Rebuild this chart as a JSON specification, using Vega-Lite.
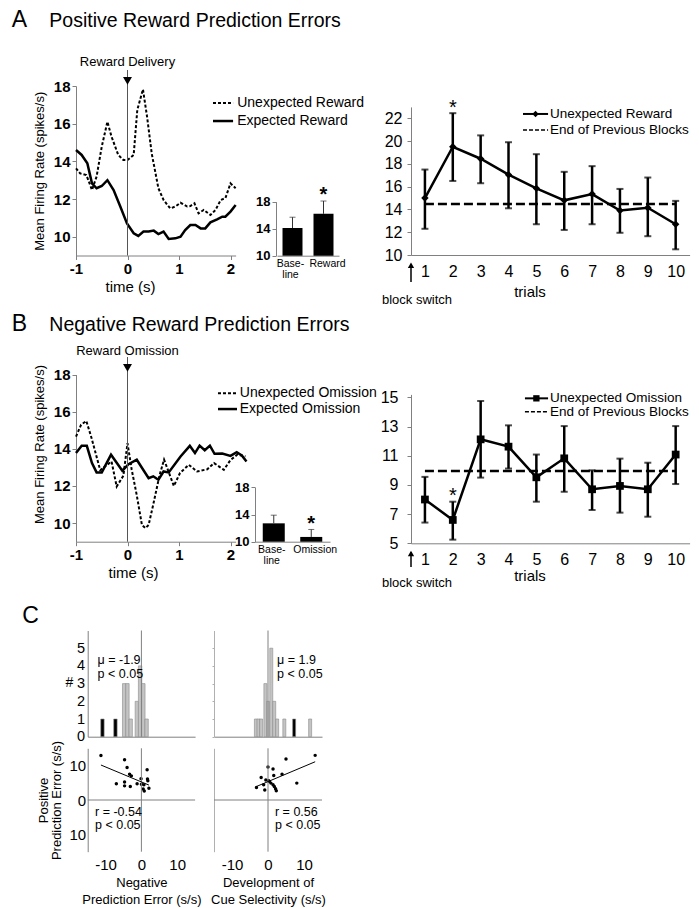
{
"$schema": "https://vega.github.io/schema/vega-lite/v6.json",
"width": 699, "height": 908, "autosize": "none", "padding": 0, "background": "white",
"config": {
  "view": {"stroke": null},
  "font": "Liberation Sans",
  "axis": {"grid": false, "domainColor": "#808080", "tickColor": "#808080", "labelColor": "#000", "titleColor": "#000", "titleFontWeight": "normal", "labelFont": "Liberation Sans", "titleFont": "Liberation Sans", "labelOverlap": false, "labelFlush": false, "labelExpr": "'' + datum.value"},
  "text": {"font": "Liberation Sans", "color": "#000"}
},
"datasets": {
  "uR": [{"t":-1.0,"rate":13.63},{"t":-0.92,"rate":13.36},{"t":-0.8,"rate":13.27},{"t":-0.76,"rate":13.0},{"t":-0.69,"rate":12.48},{"t":-0.6,"rate":13.19},{"t":-0.5,"rate":14.78},{"t":-0.39,"rate":16.1},{"t":-0.31,"rate":15.31},{"t":-0.18,"rate":14.34},{"t":-0.08,"rate":14.07},{"t":0.0,"rate":14.07},{"t":0.12,"rate":14.34},{"t":0.19,"rate":16.73},{"t":0.3,"rate":17.82},{"t":0.38,"rate":16.37},{"t":0.47,"rate":14.42},{"t":0.6,"rate":12.57},{"t":0.7,"rate":11.95},{"t":0.83,"rate":11.5},{"t":0.93,"rate":11.6},{"t":1.03,"rate":11.8},{"t":1.16,"rate":11.6},{"t":1.22,"rate":11.63},{"t":1.3,"rate":11.77},{"t":1.38,"rate":11.24},{"t":1.48,"rate":11.42},{"t":1.61,"rate":11.15},{"t":1.71,"rate":11.42},{"t":1.81,"rate":11.95},{"t":1.9,"rate":12.04},{"t":2.0,"rate":12.83},{"t":2.1,"rate":12.57}],
  "eR": [{"t":-1.0,"rate":14.6},{"t":-0.89,"rate":14.34},{"t":-0.78,"rate":13.9},{"t":-0.69,"rate":12.83},{"t":-0.6,"rate":12.57},{"t":-0.5,"rate":12.69},{"t":-0.39,"rate":13.0},{"t":-0.27,"rate":12.48},{"t":-0.14,"rate":11.6},{"t":-0.01,"rate":10.7},{"t":0.12,"rate":10.18},{"t":0.21,"rate":10.04},{"t":0.31,"rate":10.27},{"t":0.41,"rate":10.27},{"t":0.51,"rate":10.32},{"t":0.6,"rate":10.14},{"t":0.7,"rate":10.27},{"t":0.8,"rate":9.88},{"t":0.93,"rate":9.91},{"t":1.03,"rate":10.0},{"t":1.12,"rate":10.35},{"t":1.22,"rate":10.62},{"t":1.32,"rate":10.62},{"t":1.42,"rate":10.44},{"t":1.51,"rate":10.44},{"t":1.61,"rate":10.76},{"t":1.74,"rate":10.92},{"t":1.84,"rate":11.06},{"t":1.9,"rate":11.06},{"t":2.0,"rate":11.33},{"t":2.1,"rate":11.68}],
  "uO": [{"t":-1.0,"rate":14.66},{"t":-0.9,"rate":15.3},{"t":-0.8,"rate":15.5},{"t":-0.7,"rate":14.6},{"t":-0.53,"rate":12.85},{"t":-0.31,"rate":13.32},{"t":-0.21,"rate":11.97},{"t":-0.08,"rate":12.55},{"t":0.0,"rate":14.3},{"t":0.08,"rate":12.9},{"t":0.18,"rate":11.5},{"t":0.28,"rate":9.9},{"t":0.35,"rate":9.73},{"t":0.41,"rate":9.9},{"t":0.5,"rate":11.0},{"t":0.62,"rate":12.55},{"t":0.71,"rate":13.42},{"t":0.9,"rate":12.0},{"t":1.02,"rate":12.7},{"t":1.19,"rate":13.14},{"t":1.35,"rate":12.78},{"t":1.55,"rate":12.9},{"t":1.68,"rate":13.23},{"t":1.87,"rate":12.87},{"t":2.0,"rate":13.4},{"t":2.13,"rate":13.68},{"t":2.29,"rate":13.6}],
  "eO": [{"t":-1.0,"rate":13.77},{"t":-0.89,"rate":14.16},{"t":-0.79,"rate":14.16},{"t":-0.69,"rate":13.23},{"t":-0.6,"rate":12.73},{"t":-0.5,"rate":12.73},{"t":-0.32,"rate":13.68},{"t":-0.21,"rate":13.25},{"t":-0.1,"rate":12.82},{"t":0.02,"rate":13.17},{"t":0.18,"rate":13.41},{"t":0.41,"rate":12.42},{"t":0.5,"rate":12.52},{"t":0.6,"rate":12.33},{"t":0.7,"rate":12.78},{"t":0.8,"rate":12.73},{"t":1.03,"rate":13.59},{"t":1.21,"rate":14.16},{"t":1.31,"rate":13.77},{"t":1.4,"rate":14.17},{"t":1.5,"rate":13.92},{"t":1.6,"rate":14.17},{"t":1.69,"rate":13.73},{"t":1.84,"rate":13.75},{"t":2.0,"rate":13.62},{"t":2.12,"rate":13.82},{"t":2.22,"rate":13.64},{"t":2.31,"rate":13.32}],
  "barA": [{"cond":"Baseline","rate":14.1,"upper":15.7},{"cond":"Reward","rate":16.2,"upper":18.1}],
  "barB": [{"cond":"Baseline","rate":12.7,"upper":13.9},{"cond":"Omission","rate":10.7,"upper":11.8}],
  "trA": [{"trial":1,"mean":15.0,"lo":12.3,"hi":17.5},{"trial":2,"mean":19.5,"lo":16.5,"hi":22.45},{"trial":3,"mean":18.45,"lo":16.3,"hi":20.5},{"trial":4,"mean":17.05,"lo":14.1,"hi":19.9},{"trial":5,"mean":15.85,"lo":12.7,"hi":18.85},{"trial":6,"mean":14.8,"lo":12.2,"hi":17.3},{"trial":7,"mean":15.35,"lo":12.7,"hi":17.8},{"trial":8,"mean":13.9,"lo":11.95,"hi":15.8},{"trial":9,"mean":14.15,"lo":11.65,"hi":16.8},{"trial":10,"mean":12.7,"lo":10.5,"hi":14.75}],
  "trB": [{"trial":1,"mean":8.0,"lo":6.42,"hi":9.55},{"trial":2,"mean":6.6,"lo":5.25,"hi":7.85},{"trial":3,"mean":12.12,"lo":9.5,"hi":14.75},{"trial":4,"mean":11.62,"lo":10.12,"hi":13.08},{"trial":5,"mean":9.52,"lo":7.85,"hi":11.08},{"trial":6,"mean":10.82,"lo":8.53,"hi":13.03},{"trial":7,"mean":8.7,"lo":7.28,"hi":10.0},{"trial":8,"mean":8.93,"lo":7.1,"hi":10.8},{"trial":9,"mean":8.7,"lo":6.82,"hi":10.52},{"trial":10,"mean":11.08,"lo":9.06,"hi":13.03}],
  "histL": [{"bin":-12,"count":1,"kind":"black"},{"bin":-8,"count":1,"kind":"black"},{"bin":-5.3,"count":3,"kind":"grey"},{"bin":-4.3,"count":3,"kind":"grey"},{"bin":-3.3,"count":1,"kind":"grey"},{"bin":-1.4,"count":2,"kind":"grey"},{"bin":-0.4,"count":4,"kind":"grey"},{"bin":0.6,"count":3,"kind":"grey"},{"bin":1.6,"count":1,"kind":"grey"}],
  "histR": [{"bin":-3.7,"count":1,"kind":"grey"},{"bin":-2.9,"count":1,"kind":"grey"},{"bin":-2.1,"count":1,"kind":"grey"},{"bin":-0.8,"count":3,"kind":"grey"},{"bin":0.0,"count":2,"kind":"grey"},{"bin":1.0,"count":5,"kind":"grey"},{"bin":1.9,"count":2,"kind":"grey"},{"bin":2.8,"count":1,"kind":"grey"},{"bin":5.0,"count":1,"kind":"grey"},{"bin":8.0,"count":1,"kind":"black"},{"bin":12.9,"count":1,"kind":"grey"}],
  "scL": [{"nx":-11.3,"py":12.9},{"nx":-4.7,"py":11.7},{"nx":-4.0,"py":9.4},{"nx":-3.3,"py":7.5},{"nx":-2.8,"py":7.0},{"nx":-7.0,"py":4.7},{"nx":-4.7,"py":5.2},{"nx":-4.7,"py":4.1},{"nx":-3.1,"py":3.9},{"nx":-1.2,"py":4.7},{"nx":-0.1,"py":6.2},{"nx":0.0,"py":4.6},{"nx":0.5,"py":3.2},{"nx":0.8,"py":2.6},{"nx":1.6,"py":8.8},{"nx":1.7,"py":6.1},{"nx":1.8,"py":5.6},{"nx":2.1,"py":3.4},{"nx":0.7,"py":4.4}],
  "scR": [{"cx":13.1,"py":12.95},{"cx":5.0,"py":11.9},{"cx":0.0,"py":9.6},{"cx":1.4,"py":9.0},{"cx":3.9,"py":7.5},{"cx":1.6,"py":7.1},{"cx":-1.9,"py":6.5},{"cx":-0.6,"py":5.8},{"cx":0.4,"py":5.4},{"cx":0.8,"py":4.9},{"cx":1.4,"py":4.4},{"cx":-1.2,"py":4.4},{"cx":-3.2,"py":3.6},{"cx":-0.9,"py":2.9},{"cx":1.75,"py":3.9},{"cx":2.1,"py":3.3},{"cx":2.3,"py":2.7},{"cx":8.0,"py":4.9},{"cx":0.2,"py":5.6}]
},
"resolve": {"scale": {"x": "independent", "y": "independent"}, "axis": {"x": "independent", "y": "independent"}},
"layer": [
 {"layer": [
  {"data": {"name": "eR"}, "mark": {"type": "line", "color": "#000", "strokeWidth": 2.5},
   "encoding": {
    "x": {"field": "t", "type": "quantitative", "scale": {"domain": [-1, 2.1], "range": [76, 235.65], "nice": false, "zero": false},
          "axis": {"orient": "bottom", "offset": -652.5, "values": [-1, 0, 1, 2], "labelFontSize": 15, "labelFontWeight": "bold", "tickSize": 4, "labelPadding": 2, "title": "time (s)", "titleFontSize": 15, "titlePadding": 3, "titleX": 130}},
    "y": {"field": "rate", "type": "quantitative", "scale": {"domain": [9, 18], "range": [255.5, 86], "nice": false, "zero": false},
          "axis": {"orient": "left", "offset": -76, "values": [10, 12, 14, 16, 18], "labelFontSize": 15, "labelFontWeight": "bold", "tickSize": 4, "labelPadding": 2, "title": "Mean Firing Rate (spikes/s)", "titleFontSize": 13, "titlePadding": 7}}}},
  {"data": {"name": "uR"}, "mark": {"type": "line", "color": "#000", "strokeWidth": 2, "strokeDash": [3, 2]},
   "encoding": {"x": {"field": "t", "type": "quantitative"}, "y": {"field": "rate", "type": "quantitative"}}},
  {"data": {"values": [{}]}, "mark": {"type": "rule", "color": "#555", "strokeWidth": 1},
   "encoding": {"x": {"datum": 0}, "y": {"datum": 9}, "y2": {"datum": 18.85}}},
  {"data": {"values": [{}]}, "mark": {"type": "point", "shape": "triangle-down", "filled": true, "color": "#000", "opacity": 1, "size": 80},
   "encoding": {"x": {"datum": 0}, "y": {"datum": 18.27}}},
  {"data": {"values": [{}]}, "mark": {"type": "text", "fontSize": 13, "align": "center", "baseline": "middle"},
   "encoding": {"x": {"datum": 0}, "y": {"datum": 19.27}, "text": {"value": "Reward Delivery"}}},
  {"data": {"values": [{}]}, "mark": {"type": "rule", "color": "#000", "strokeWidth": 2, "strokeDash": [3, 2]},
   "encoding": {"x": {"datum": 1.66}, "x2": {"datum": 2.05}, "y": {"datum": 17.1}}},
  {"data": {"values": [{}]}, "mark": {"type": "rule", "color": "#000", "strokeWidth": 2.5},
   "encoding": {"x": {"datum": 1.66}, "x2": {"datum": 2.05}, "y": {"datum": 16.14}}},
  {"data": {"values": [{}]}, "mark": {"type": "text", "fontSize": 14, "align": "left", "baseline": "middle"},
   "encoding": {"x": {"datum": 2.13}, "y": {"datum": 17.1}, "text": {"value": "Unexpected Reward"}}},
  {"data": {"values": [{}]}, "mark": {"type": "text", "fontSize": 14, "align": "left", "baseline": "middle"},
   "encoding": {"x": {"datum": 2.13}, "y": {"datum": 16.14}, "text": {"value": "Expected Reward"}}},
  {"data": {"values": [{}]}, "mark": {"type": "text", "fontSize": 23, "align": "left", "baseline": "alphabetic"},
   "encoding": {"x": {"datum": -2.249}, "y": {"datum": 21.13}, "text": {"value": "A"}}},
  {"data": {"values": [{}]}, "mark": {"type": "text", "fontSize": 19.5, "align": "left", "baseline": "alphabetic"},
   "encoding": {"x": {"datum": -1.518}, "y": {"datum": 21.13}, "text": {"value": "Positive Reward Prediction Errors"}}}
 ]},
 {"layer": [
  {"data": {"name": "barA"}, "mark": {"type": "bar", "color": "#000"},
   "encoding": {
    "x": {"field": "cond", "type": "nominal", "sort": null, "scale": {"domain": ["Baseline", "Reward"], "range": [277, 339], "paddingInner": 0.355, "paddingOuter": 0.1775},
          "axis": {"orient": "bottom", "offset": -652.3, "labelAngle": 0, "ticks": false, "labelFontSize": 10.5, "labelPadding": 3, "labelLineHeight": 11, "labelOffset": {"condition": {"test": "datum.value == 'Baseline'", "value": -2}, "value": 4}, "labelExpr": "datum.value == 'Baseline' ? ['Base-', 'line'] : datum.value", "title": null}},
    "y": {"field": "rate", "type": "quantitative", "scale": {"domain": [10, 18], "range": [255.7, 201.7], "nice": false, "zero": false},
          "axis": {"orient": "left", "offset": -276, "values": [10, 14, 18], "labelFontSize": 13, "labelFontWeight": "bold", "tickSize": 4, "labelPadding": 2, "title": null}},
    "y2": {"datum": 10}}},
  {"data": {"name": "barA"}, "mark": {"type": "rule", "color": "#333", "strokeWidth": 1},
   "encoding": {"x": {"field": "cond", "type": "nominal"}, "y": {"field": "rate", "type": "quantitative"}, "y2": {"field": "upper"}}},
  {"data": {"name": "barA"}, "mark": {"type": "tick", "orient": "horizontal", "size": 6, "thickness": 1, "color": "#333"},
   "encoding": {"x": {"field": "cond", "type": "nominal"}, "y": {"field": "upper", "type": "quantitative"}}},
  {"data": {"values": [{"cond": "Reward"}]}, "mark": {"type": "text", "fontSize": 20, "fontWeight": "bold", "align": "center", "baseline": "middle"},
   "encoding": {"x": {"field": "cond", "type": "nominal"}, "y": {"datum": 19.05}, "text": {"value": "*"}}}
 ]},
 {"layer": [
  {"data": {"name": "trA"}, "mark": {"type": "rule", "color": "#000", "strokeWidth": 2.5},
   "encoding": {
    "x": {"field": "trial", "type": "quantitative", "scale": {"domain": [0.5, 10.5], "range": [411, 689.6], "nice": false, "zero": false},
          "axis": {"orient": "bottom", "offset": -653, "values": [1,2,3,4,5,6,7,8,9,10], "ticks": false, "labelFontSize": 16, "labelPadding": 8, "title": null}},
    "y": {"field": "lo", "type": "quantitative", "scale": {"domain": [10, 23], "range": [255, 106.9], "nice": false, "zero": false},
          "axis": {"orient": "left", "offset": -411, "values": [10,12,14,16,18,20,22], "labelFontSize": 16, "tickSize": 4, "labelPadding": 5, "title": null}},
    "y2": {"field": "hi"}}},
  {"data": {"name": "trA"}, "mark": {"type": "tick", "orient": "horizontal", "size": 7, "thickness": 2, "color": "#000"},
   "encoding": {"x": {"field": "trial", "type": "quantitative"}, "y": {"field": "lo", "type": "quantitative"}}},
  {"data": {"name": "trA"}, "mark": {"type": "tick", "orient": "horizontal", "size": 7, "thickness": 2, "color": "#000"},
   "encoding": {"x": {"field": "trial", "type": "quantitative"}, "y": {"field": "hi", "type": "quantitative"}}},
  {"data": {"values": [{}]}, "mark": {"type": "rule", "color": "#000", "strokeWidth": 2.5, "strokeDash": [9, 4]},
   "encoding": {"x": {"datum": 1}, "x2": {"datum": 10}, "y": {"datum": 14.48}}},
  {"data": {"name": "trA"}, "mark": {"type": "line", "color": "#000", "strokeWidth": 2.5},
   "encoding": {"x": {"field": "trial", "type": "quantitative"}, "y": {"field": "mean", "type": "quantitative"}}},
  {"data": {"name": "trA"}, "mark": {"type": "point", "shape": "diamond", "filled": true, "color": "#000", "opacity": 1, "size": 55},
   "encoding": {"x": {"field": "trial", "type": "quantitative"}, "y": {"field": "mean", "type": "quantitative"}}},
  {"data": {"values": [{}]}, "mark": {"type": "text", "fontSize": 20, "align": "center", "baseline": "middle"},
   "encoding": {"x": {"datum": 2}, "y": {"datum": 22.92}, "text": {"value": "*"}}},
  {"data": {"values": [{}]}, "mark": {"type": "rule", "color": "#000", "strokeWidth": 2},
   "encoding": {"x": {"datum": 4.52}, "x2": {"datum": 5.42}, "y": {"datum": 22.38}}},
  {"data": {"values": [{}]}, "mark": {"type": "point", "shape": "diamond", "filled": true, "color": "#000", "opacity": 1, "size": 40},
   "encoding": {"x": {"datum": 4.97}, "y": {"datum": 22.38}}},
  {"data": {"values": [{}]}, "mark": {"type": "text", "fontSize": 13.5, "align": "left", "baseline": "middle"},
   "encoding": {"x": {"datum": 5.49}, "y": {"datum": 22.38}, "text": {"value": "Unexpected Reward"}}},
  {"data": {"values": [{}]}, "mark": {"type": "rule", "color": "#000", "strokeWidth": 1.5, "strokeDash": [4, 2]},
   "encoding": {"x": {"datum": 4.52}, "x2": {"datum": 5.42}, "y": {"datum": 20.97}}},
  {"data": {"values": [{}]}, "mark": {"type": "text", "fontSize": 13.5, "align": "left", "baseline": "middle"},
   "encoding": {"x": {"datum": 5.49}, "y": {"datum": 20.97}, "text": {"value": "End of Previous Blocks"}}},
  {"data": {"values": [{}]}, "mark": {"type": "rule", "color": "#000", "strokeWidth": 1.5},
   "encoding": {"x": {"datum": 0.5}, "y": {"datum": 7.63}, "y2": {"datum": 9.2}}},
  {"data": {"values": [{}]}, "mark": {"type": "point", "shape": "triangle-up", "filled": true, "color": "#000", "opacity": 1, "size": 40},
   "encoding": {"x": {"datum": 0.5}, "y": {"datum": 9.1}}},
  {"data": {"values": [{}]}, "mark": {"type": "text", "fontSize": 13, "align": "center", "baseline": "middle"},
   "encoding": {"x": {"datum": 0.715}, "y": {"datum": 6.05}, "text": {"value": "block switch"}}},
  {"data": {"values": [{}]}, "mark": {"type": "text", "fontSize": 15, "align": "center", "baseline": "middle"},
   "encoding": {"x": {"datum": 4.77}, "y": {"datum": 6.75}, "text": {"value": "trials"}}}
 ]},
 {"layer": [
  {"data": {"name": "eO"}, "mark": {"type": "line", "color": "#000", "strokeWidth": 2.5},
   "encoding": {
    "x": {"field": "t", "type": "quantitative", "scale": {"domain": [-1, 2.1], "range": [76, 235.65], "nice": false, "zero": false},
          "axis": {"orient": "bottom", "offset": -366.3, "values": [-1, 0, 1, 2], "labelFontSize": 15, "labelFontWeight": "bold", "tickSize": 4, "labelPadding": 2, "title": "time (s)", "titleFontSize": 15, "titlePadding": 3, "titleX": 133}},
    "y": {"field": "rate", "type": "quantitative", "scale": {"domain": [9, 18], "range": [541.7, 374.5], "nice": false, "zero": false},
          "axis": {"orient": "left", "offset": -76, "values": [10, 12, 14, 16, 18], "labelFontSize": 15, "labelFontWeight": "bold", "tickSize": 4, "labelPadding": 2, "title": "Mean Firing Rate (spikes/s)", "titleFontSize": 13, "titlePadding": 7, "titleY": 444}}}},
  {"data": {"name": "uO"}, "mark": {"type": "line", "color": "#000", "strokeWidth": 2, "strokeDash": [3, 2]},
   "encoding": {"x": {"field": "t", "type": "quantitative"}, "y": {"field": "rate", "type": "quantitative"}}},
  {"data": {"values": [{}]}, "mark": {"type": "rule", "color": "#555", "strokeWidth": 1},
   "encoding": {"x": {"datum": 0}, "y": {"datum": 9}, "y2": {"datum": 18.94}}},
  {"data": {"values": [{}]}, "mark": {"type": "point", "shape": "triangle-down", "filled": true, "color": "#000", "opacity": 1, "size": 80},
   "encoding": {"x": {"datum": 0}, "y": {"datum": 18.35}}},
  {"data": {"values": [{}]}, "mark": {"type": "text", "fontSize": 13, "align": "center", "baseline": "middle"},
   "encoding": {"x": {"datum": 0}, "y": {"datum": 19.26}, "text": {"value": "Reward Omission"}}},
  {"data": {"values": [{}]}, "mark": {"type": "rule", "color": "#000", "strokeWidth": 2, "strokeDash": [3, 2]},
   "encoding": {"x": {"datum": 1.757}, "x2": {"datum": 2.126}, "y": {"datum": 16.99}}},
  {"data": {"values": [{}]}, "mark": {"type": "rule", "color": "#000", "strokeWidth": 2.5},
   "encoding": {"x": {"datum": 1.757}, "x2": {"datum": 2.126}, "y": {"datum": 16.14}}},
  {"data": {"values": [{}]}, "mark": {"type": "text", "fontSize": 14, "align": "left", "baseline": "middle"},
   "encoding": {"x": {"datum": 2.18}, "y": {"datum": 16.99}, "text": {"value": "Unexpected Omission"}}},
  {"data": {"values": [{}]}, "mark": {"type": "text", "fontSize": 14, "align": "left", "baseline": "middle"},
   "encoding": {"x": {"datum": 2.18}, "y": {"datum": 16.14}, "text": {"value": "Expected Omission"}}},
  {"data": {"values": [{}]}, "mark": {"type": "text", "fontSize": 23, "align": "left", "baseline": "alphabetic"},
   "encoding": {"x": {"datum": -2.249}, "y": {"datum": 20.34}, "text": {"value": "B"}}},
  {"data": {"values": [{}]}, "mark": {"type": "text", "fontSize": 19.5, "align": "left", "baseline": "alphabetic"},
   "encoding": {"x": {"datum": -1.518}, "y": {"datum": 20.34}, "text": {"value": "Negative Reward Prediction Errors"}}}
 ]},
 {"layer": [
  {"data": {"name": "barB"}, "mark": {"type": "bar", "color": "#000"},
   "encoding": {
    "x": {"field": "cond", "type": "nominal", "sort": null, "scale": {"domain": ["Baseline", "Omission"], "range": [255, 330], "paddingInner": 0.413, "paddingOuter": 0.2067},
          "axis": {"orient": "bottom", "offset": -366.3, "labelAngle": 0, "ticks": false, "labelFontSize": 10.5, "labelPadding": 3, "labelLineHeight": 11, "labelOffset": {"condition": {"test": "datum.value == 'Baseline'", "value": -2}, "value": 4}, "labelExpr": "datum.value == 'Baseline' ? ['Base-', 'line'] : datum.value", "title": null}},
    "y": {"field": "rate", "type": "quantitative", "scale": {"domain": [10, 18], "range": [541.7, 487.3], "nice": false, "zero": false},
          "axis": {"orient": "left", "offset": -255, "values": [10, 14, 18], "labelFontSize": 13, "labelFontWeight": "bold", "tickSize": 4, "labelPadding": 2, "title": null}},
    "y2": {"datum": 10}}},
  {"data": {"name": "barB"}, "mark": {"type": "rule", "color": "#333", "strokeWidth": 1},
   "encoding": {"x": {"field": "cond", "type": "nominal"}, "y": {"field": "rate", "type": "quantitative"}, "y2": {"field": "upper"}}},
  {"data": {"name": "barB"}, "mark": {"type": "tick", "orient": "horizontal", "size": 6, "thickness": 1, "color": "#333"},
   "encoding": {"x": {"field": "cond", "type": "nominal"}, "y": {"field": "upper", "type": "quantitative"}}},
  {"data": {"values": [{"cond": "Omission"}]}, "mark": {"type": "text", "fontSize": 20, "fontWeight": "bold", "align": "center", "baseline": "middle"},
   "encoding": {"x": {"field": "cond", "type": "nominal"}, "y": {"datum": 12.6}, "text": {"value": "*"}}}
 ]},
 {"layer": [
  {"data": {"name": "trB"}, "mark": {"type": "rule", "color": "#000", "strokeWidth": 2.5},
   "encoding": {
    "x": {"field": "trial", "type": "quantitative", "scale": {"domain": [0.5, 10.5], "range": [411, 689.6], "nice": false, "zero": false},
          "axis": {"orient": "bottom", "offset": -364.7, "values": [1,2,3,4,5,6,7,8,9,10], "ticks": false, "labelFontSize": 16, "labelPadding": 8, "title": null}},
    "y": {"field": "lo", "type": "quantitative", "scale": {"domain": [5, 15.2], "range": [543.3, 394.4], "nice": false, "zero": false},
          "axis": {"orient": "left", "offset": -411, "values": [5,7,9,11,13,15], "labelFontSize": 16, "tickSize": 4, "labelPadding": 9, "title": null}},
    "y2": {"field": "hi"}}},
  {"data": {"name": "trB"}, "mark": {"type": "tick", "orient": "horizontal", "size": 7, "thickness": 2, "color": "#000"},
   "encoding": {"x": {"field": "trial", "type": "quantitative"}, "y": {"field": "lo", "type": "quantitative"}}},
  {"data": {"name": "trB"}, "mark": {"type": "tick", "orient": "horizontal", "size": 7, "thickness": 2, "color": "#000"},
   "encoding": {"x": {"field": "trial", "type": "quantitative"}, "y": {"field": "hi", "type": "quantitative"}}},
  {"data": {"values": [{}]}, "mark": {"type": "rule", "color": "#000", "strokeWidth": 2.5, "strokeDash": [9, 4]},
   "encoding": {"x": {"datum": 1}, "x2": {"datum": 10}, "y": {"datum": 9.95}}},
  {"data": {"name": "trB"}, "mark": {"type": "line", "color": "#000", "strokeWidth": 2.5},
   "encoding": {"x": {"field": "trial", "type": "quantitative"}, "y": {"field": "mean", "type": "quantitative"}}},
  {"data": {"name": "trB"}, "mark": {"type": "point", "shape": "square", "filled": true, "color": "#000", "opacity": 1, "size": 60},
   "encoding": {"x": {"field": "trial", "type": "quantitative"}, "y": {"field": "mean", "type": "quantitative"}}},
  {"data": {"values": [{}]}, "mark": {"type": "text", "fontSize": 20, "align": "center", "baseline": "middle"},
   "encoding": {"x": {"datum": 2}, "y": {"datum": 8.22}, "text": {"value": "*"}}},
  {"data": {"values": [{}]}, "mark": {"type": "rule", "color": "#000", "strokeWidth": 2},
   "encoding": {"x": {"datum": 4.59}, "x2": {"datum": 5.42}, "y": {"datum": 14.93}}},
  {"data": {"values": [{}]}, "mark": {"type": "point", "shape": "square", "filled": true, "color": "#000", "opacity": 1, "size": 40},
   "encoding": {"x": {"datum": 5.0}, "y": {"datum": 14.93}}},
  {"data": {"values": [{}]}, "mark": {"type": "text", "fontSize": 13.5, "align": "left", "baseline": "middle"},
   "encoding": {"x": {"datum": 5.49}, "y": {"datum": 14.93}, "text": {"value": "Unexpected Omission"}}},
  {"data": {"values": [{}]}, "mark": {"type": "rule", "color": "#000", "strokeWidth": 1.5, "strokeDash": [4, 2]},
   "encoding": {"x": {"datum": 4.59}, "x2": {"datum": 5.42}, "y": {"datum": 14.01}}},
  {"data": {"values": [{}]}, "mark": {"type": "text", "fontSize": 13.5, "align": "left", "baseline": "middle"},
   "encoding": {"x": {"datum": 5.49}, "y": {"datum": 14.01}, "text": {"value": "End of Previous Blocks"}}},
  {"data": {"values": [{}]}, "mark": {"type": "rule", "color": "#000", "strokeWidth": 1.5},
   "encoding": {"x": {"datum": 0.5}, "y": {"datum": 3.38}, "y2": {"datum": 4.4}}},
  {"data": {"values": [{}]}, "mark": {"type": "point", "shape": "triangle-up", "filled": true, "color": "#000", "opacity": 1, "size": 40},
   "encoding": {"x": {"datum": 0.5}, "y": {"datum": 4.3}}},
  {"data": {"values": [{}]}, "mark": {"type": "text", "fontSize": 13, "align": "center", "baseline": "middle"},
   "encoding": {"x": {"datum": 0.715}, "y": {"datum": 2.28}, "text": {"value": "block switch"}}},
  {"data": {"values": [{}]}, "mark": {"type": "text", "fontSize": 15, "align": "center", "baseline": "middle"},
   "encoding": {"x": {"datum": 4.77}, "y": {"datum": 2.76}, "text": {"value": "trials"}}}
 ]},
 {"layer": [
  {"data": {"name": "histL"}, "mark": {"type": "bar", "width": 3.4, "stroke": "#8a8a8a", "strokeWidth": 0.6},
   "encoding": {
    "x": {"field": "bin", "type": "quantitative", "scale": {"domain": [-15, 15], "range": [87.7, 195.1], "nice": false, "zero": false},
          "axis": {"orient": "bottom", "offset": -171.3, "labels": false, "ticks": false, "title": null}},
    "y": {"field": "count", "type": "quantitative", "scale": {"domain": [0, 6], "range": [736.7, 630.5], "nice": false, "zero": false},
          "axis": {"orient": "left", "offset": -87.7, "values": [0,1,2,3,4,5], "ticks": false, "labelFontSize": 14.5, "labelPadding": 3, "title": null}},
    "y2": {"datum": 0},
    "color": {"field": "kind", "type": "nominal", "scale": {"domain": ["grey", "black"], "range": ["#c4c4c4", "#000000"]}, "legend": null}}},
  {"data": {"values": [{}]}, "mark": {"type": "rule", "color": "#808080", "strokeWidth": 1},
   "encoding": {"x": {"datum": 0}, "y": {"datum": 0}, "y2": {"datum": 6}}},
  {"data": {"values": [{}]}, "mark": {"type": "text", "fontSize": 12.5, "align": "left", "baseline": "middle"},
   "encoding": {"x": {"datum": -13.5}, "y": {"datum": 4.33}, "text": {"value": "μ = -1.9"}}},
  {"data": {"values": [{}]}, "mark": {"type": "text", "fontSize": 12.5, "align": "left", "baseline": "middle"},
   "encoding": {"x": {"datum": -13.5}, "y": {"datum": 3.54}, "text": {"value": "p < 0.05"}}},
  {"data": {"values": [{}]}, "mark": {"type": "text", "fontSize": 14, "align": "center", "baseline": "middle"},
   "encoding": {"x": {"datum": -22.2}, "y": {"datum": 3.03}, "text": {"value": "#"}}},
  {"data": {"values": [{}]}, "mark": {"type": "text", "fontSize": 23, "align": "left", "baseline": "alphabetic"},
   "encoding": {"x": {"datum": -36.7}, "y": {"datum": 6.42}, "text": {"value": "C"}}}
 ]},
 {"layer": [
  {"data": {"name": "histR"}, "mark": {"type": "bar", "width": 3.0, "stroke": "#8a8a8a", "strokeWidth": 0.6},
   "encoding": {
    "x": {"field": "bin", "type": "quantitative", "scale": {"domain": [-15, 15], "range": [214, 322], "nice": false, "zero": false},
          "axis": {"orient": "bottom", "offset": -171.3, "labels": false, "ticks": false, "title": null}},
    "y": {"field": "count", "type": "quantitative", "scale": {"domain": [0, 6], "range": [736.7, 630.5], "nice": false, "zero": false},
          "axis": {"orient": "left", "offset": -214, "values": [0,1,2,3,4,5], "labels": false, "tickSize": 2, "domainColor": "#b0b0b0", "tickColor": "#b0b0b0", "title": null}},
    "y2": {"datum": 0},
    "color": {"field": "kind", "type": "nominal", "scale": {"domain": ["grey", "black"], "range": ["#c4c4c4", "#000000"]}, "legend": null}}},
  {"data": {"values": [{}]}, "mark": {"type": "rule", "color": "#808080", "strokeWidth": 1},
   "encoding": {"x": {"datum": 0}, "y": {"datum": 0}, "y2": {"datum": 6}}},
  {"data": {"values": [{}]}, "mark": {"type": "text", "fontSize": 12.5, "align": "left", "baseline": "middle"},
   "encoding": {"x": {"datum": 2.78}, "y": {"datum": 4.33}, "text": {"value": "μ = 1.9"}}},
  {"data": {"values": [{}]}, "mark": {"type": "text", "fontSize": 12.5, "align": "left", "baseline": "middle"},
   "encoding": {"x": {"datum": 2.78}, "y": {"datum": 3.54}, "text": {"value": "p < 0.05"}}}
 ]},
 {"layer": [
  {"data": {"name": "scL"}, "mark": {"type": "point", "filled": true, "color": "#000", "opacity": 1, "size": 12},
   "encoding": {
    "x": {"field": "nx", "type": "quantitative", "scale": {"domain": [-15, 15], "range": [87.7, 195.1], "nice": false, "zero": false},
          "axis": {"orient": "bottom", "offset": -56.3, "values": [-10, 0, 10], "domain": false, "ticks": false, "labelFontSize": 15, "labelPadding": 6, "title": ["Negative", "Prediction Error (s/s)"], "titleFontSize": 13, "titleLineHeight": 16.5, "titlePadding": 4}},
    "y": {"field": "py", "type": "quantitative", "scale": {"domain": [-15, 15], "range": [851.7, 748.3], "nice": false, "zero": false},
          "axis": {"orient": "left", "offset": -87.7, "values": [-10, 0, 10], "labelExpr": "datum.value < 0 ? '10' : '' + datum.value", "ticks": false, "labelFontSize": 15, "labelPadding": 2, "title": ["Positive", "Prediction Error (s/s)"], "titleFontSize": 13, "titleLineHeight": 12.5, "titlePadding": 6}}}},
  {"data": {"values": [{}]}, "mark": {"type": "rule", "color": "#808080", "strokeWidth": 1},
   "encoding": {"x": {"datum": 0}, "y": {"datum": -15}, "y2": {"datum": 15}}},
  {"data": {"values": [{}]}, "mark": {"type": "rule", "color": "#808080", "strokeWidth": 1},
   "encoding": {"x": {"datum": -15}, "x2": {"datum": 15}, "y": {"datum": 0}}},
  {"data": {"name": "scL"}, "transform": [{"regression": "py", "on": "nx"}], "mark": {"type": "line", "color": "#000", "strokeWidth": 1},
   "encoding": {"x": {"field": "nx", "type": "quantitative"}, "y": {"field": "py", "type": "quantitative"}}},
  {"data": {"values": [{}]}, "mark": {"type": "text", "fontSize": 12.5, "align": "left", "baseline": "middle"},
   "encoding": {"x": {"datum": -12.96}, "y": {"datum": -3.39}, "text": {"value": "r = -0.54"}}},
  {"data": {"values": [{}]}, "mark": {"type": "text", "fontSize": 12.5, "align": "left", "baseline": "middle"},
   "encoding": {"x": {"datum": -12.96}, "y": {"datum": -7.25}, "text": {"value": "p < 0.05"}}}
 ]},
 {"layer": [
  {"data": {"name": "scR"}, "mark": {"type": "point", "filled": true, "color": "#000", "opacity": 1, "size": 12},
   "encoding": {
    "x": {"field": "cx", "type": "quantitative", "scale": {"domain": [-15, 15], "range": [214, 322], "nice": false, "zero": false},
          "axis": {"orient": "bottom", "offset": -56.3, "values": [-10, 0, 10], "domain": false, "ticks": false, "labelFontSize": 15, "labelPadding": 6, "title": ["Development of", "Cue Selectivity (s/s)"], "titleFontSize": 13, "titleLineHeight": 16.5, "titlePadding": 4}},
    "y": {"field": "py", "type": "quantitative", "scale": {"domain": [-15, 15], "range": [851.7, 748.3], "nice": false, "zero": false},
          "axis": {"orient": "left", "offset": -214, "labels": false, "ticks": false, "domainColor": "#b0b0b0", "title": null}}}},
  {"data": {"values": [{}]}, "mark": {"type": "rule", "color": "#808080", "strokeWidth": 1},
   "encoding": {"x": {"datum": 0}, "y": {"datum": -15}, "y2": {"datum": 15}}},
  {"data": {"values": [{}]}, "mark": {"type": "rule", "color": "#808080", "strokeWidth": 1},
   "encoding": {"x": {"datum": -15}, "x2": {"datum": 15}, "y": {"datum": 0}}},
  {"data": {"name": "scR"}, "transform": [{"regression": "py", "on": "cx"}], "mark": {"type": "line", "color": "#000", "strokeWidth": 1},
   "encoding": {"x": {"field": "cx", "type": "quantitative"}, "y": {"field": "py", "type": "quantitative"}}},
  {"data": {"values": [{}]}, "mark": {"type": "text", "fontSize": 12.5, "align": "left", "baseline": "middle"},
   "encoding": {"x": {"datum": 1.94}, "y": {"datum": -3.39}, "text": {"value": "r = 0.56"}}},
  {"data": {"values": [{}]}, "mark": {"type": "text", "fontSize": 12.5, "align": "left", "baseline": "middle"},
   "encoding": {"x": {"datum": 1.94}, "y": {"datum": -7.25}, "text": {"value": "p < 0.05"}}}
 ]}
]
}
